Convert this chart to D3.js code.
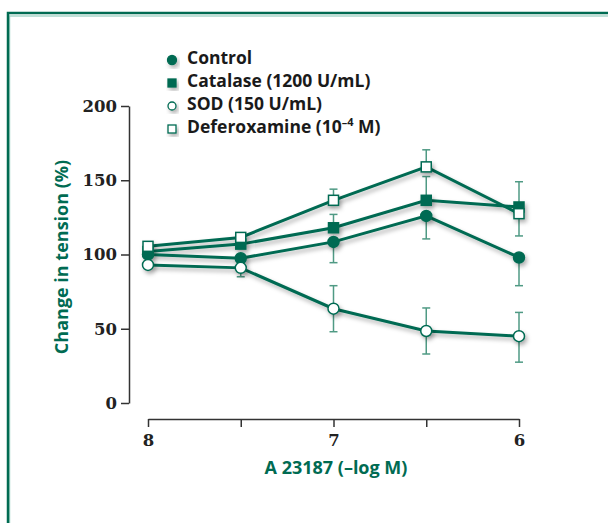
<!DOCTYPE html>
<html>
<head>
<meta charset="utf-8">
<script src="https://cdn.jsdelivr.net/npm/d3@7"></script>
<style>
  body { margin: 0; background: #fff; }
</style>
</head>
<body>
<div id="chart"></div>
<script>
// x positions (-log M)
var xVals = [8, 7.5, 7, 6.5, 6];
var xTickVals = [8, 7.5, 7, 6.5, 6];
var xTickLabels = ["8", "", "7", "", "6"];
var yTickVals = [0, 50, 100, 150, 200];

// series values (% change in tension)
var control = [100, 97.5, 108.5, 126, 98];
var catalase = [102, 107, 118, 136.5, 132];
var sod = [93, 91, 63.5, 48.5, 45];
var deferoxamine = [105.5, 111.5, 136.5, 159, 127.5];

// error bars (up / down)
var controlErrUp = [0, 0, 0, 0, 0];
var controlErrDown = [0, 0, 14, 15.5, 19];
var catalaseErrUp = [0, 0, 9, 16, 17];
var catalaseErrDown = [0, 0, 0, 0, 0];
var sodErrUp = [0, 6, 15.5, 15.5, 16];
var sodErrDown = [0, 6, 15.5, 15.5, 17.5];
var defErrUp = [0, 0, 7.5, 11.5, 0];
var defErrDown = [0, 0, 0, 0, 15];

var seriesNames = ["Control", "Catalase (1200 U/mL)", "SOD (150 U/mL)", "Deferoxamine"];

var green = "#006b52";
var barColor = "#4f9a84";
var sans = "Open Sans";

var svg = d3.select("#chart").append("svg")
    .attr("width", 608)
    .attr("height", 523);

var defs = svg.append("defs");
var f = defs.append("filter").attr("id", "shadow")
    .attr("x", "-20%").attr("y", "-20%").attr("width", "150%").attr("height", "160%");
f.append("feDropShadow")
    .attr("dx", 2).attr("dy", 3).attr("stdDeviation", 2)
    .attr("flood-color", "#000").attr("flood-opacity", 0.3);

// frame
svg.append("path")
    .attr("d", "M9.5,523 L9.5,16 L608,16")
    .attr("fill", "none").attr("stroke", "#a9d6ca").attr("stroke-width", 1.5);
svg.append("path")
    .attr("d", "M8,523 L8,13 L608,13")
    .attr("fill", "none").attr("stroke", green).attr("stroke-width", 2.5);

var x = d3.scaleLinear().domain([8, 6]).range([148, 519]);
var y = d3.scaleLinear().domain([0, 200]).range([403, 106]);

// y axis
var yAxis = svg.append("g")
    .attr("transform", "translate(129,0)")
    .call(d3.axisLeft(y).tickValues(yTickVals).tickSize(8).tickPadding(4).tickSizeOuter(0));
yAxis.select(".domain").attr("stroke", "#333").attr("stroke-width", 1.5);
yAxis.selectAll(".tick line").attr("stroke", "#333").attr("stroke-width", 1.5);
yAxis.selectAll(".tick text")
    .style("font-family", "DejaVu Serif").style("font-weight", "bold")
    .style("font-size", "16.5px").attr("fill", "#222");

// x axis
var xAxis = svg.append("g")
    .attr("transform", "translate(0,419)")
    .call(d3.axisBottom(x).tickValues(xTickVals)
      .tickFormat(function(d, i) { return xTickLabels[i]; })
      .tickSize(8).tickPadding(7).tickSizeOuter(0));
xAxis.select(".domain").attr("stroke", "#333").attr("stroke-width", 1.5);
xAxis.selectAll(".tick line").attr("stroke", "#333").attr("stroke-width", 1.5);
xAxis.selectAll(".tick text")
    .style("font-family", "DejaVu Serif").style("font-weight", "bold")
    .style("font-size", "16.5px").attr("fill", "#222");

// axis titles
svg.append("text")
    .attr("x", 336).attr("y", 474)
    .attr("text-anchor", "middle")
    .style("font-family", sans).style("font-weight", "bold").style("font-size", "18px")
    .attr("fill", green)
    .text("A 23187 (\u2013log M)");

svg.append("text")
    .attr("transform", "translate(68,257) rotate(-90)")
    .attr("text-anchor", "middle")
    .style("font-family", sans).style("font-weight", "bold").style("font-size", "18px")
    .attr("fill", green)
    .text("Change in tension (%)");

var series = [
  { name: "Control", values: control, up: controlErrUp, down: controlErrDown, shape: "circle", filled: true },
  { name: "Catalase", values: catalase, up: catalaseErrUp, down: catalaseErrDown, shape: "square", filled: true },
  { name: "SOD", values: sod, up: sodErrUp, down: sodErrDown, shape: "circle", filled: false },
  { name: "Deferoxamine", values: deferoxamine, up: defErrUp, down: defErrDown, shape: "square", filled: false }
];

// error bars
var bars = svg.append("g");
series.forEach(function(s) {
  xVals.forEach(function(xv, i) {
    var v = s.values[i];
    if (s.up[i] > 0) {
      bars.append("line").attr("x1", x(xv)).attr("x2", x(xv))
        .attr("y1", y(v)).attr("y2", y(v + s.up[i]))
        .attr("stroke", barColor).attr("stroke-width", 1.5);
      bars.append("line").attr("x1", x(xv) - 4).attr("x2", x(xv) + 4)
        .attr("y1", y(v + s.up[i])).attr("y2", y(v + s.up[i]))
        .attr("stroke", barColor).attr("stroke-width", 1.5);
    }
    if (s.down[i] > 0) {
      bars.append("line").attr("x1", x(xv)).attr("x2", x(xv))
        .attr("y1", y(v)).attr("y2", y(v - s.down[i]))
        .attr("stroke", barColor).attr("stroke-width", 1.5);
      bars.append("line").attr("x1", x(xv) - 4).attr("x2", x(xv) + 4)
        .attr("y1", y(v - s.down[i])).attr("y2", y(v - s.down[i]))
        .attr("stroke", barColor).attr("stroke-width", 1.5);
    }
  });
});

// lines
var line = d3.line()
  .x(function(d, i) { return x(xVals[i]); })
  .y(function(d) { return y(d); });

var linesG = svg.append("g").attr("filter", "url(#shadow)");
series.forEach(function(s) {
  linesG.append("path")
    .datum(s.values)
    .attr("d", line)
    .attr("fill", "none")
    .attr("stroke", green)
    .attr("stroke-width", 3);
});

// markers
function drawMarker(g, shape, filled, cx, cy) {
  if (shape == "circle") {
    g.append("circle").attr("cx", cx).attr("cy", cy)
      .attr("r", 5.5)
      .attr("fill", filled ? green : "#fff")
      .attr("stroke", green).attr("stroke-width", 1.5);
  } else {
    g.append("rect").attr("x", cx - 5).attr("y", cy - 5)
      .attr("width", 10).attr("height", 10)
      .attr("fill", filled ? green : "#fff")
      .attr("stroke", green).attr("stroke-width", 1.5);
  }
}

var markersG = svg.append("g").attr("filter", "url(#shadow)");
series.forEach(function(s) {
  s.values.forEach(function(v, i) {
    drawMarker(markersG, s.shape, s.filled, x(xVals[i]), y(v));
  });
});

// legend
var legend = svg.append("g");
var legendY = [58, 81, 104, 127];
series.forEach(function(s, i) {
  var lg = legend.append("g").attr("filter", "url(#shadow)");
  if (s.shape == "circle") {
    lg.append("circle").attr("cx", 172).attr("cy", legendY[i] + 2)
      .attr("r", s.filled ? 4.5 : 4)
      .attr("fill", s.filled ? green : "#fff")
      .attr("stroke", green).attr("stroke-width", 1.3);
  } else {
    lg.append("rect").attr("x", 168).attr("y", legendY[i] - 2)
      .attr("width", 8).attr("height", 8)
      .attr("fill", s.filled ? green : "#fff")
      .attr("stroke", green).attr("stroke-width", 1.3);
  }
  var t = legend.append("text")
    .attr("x", 187).attr("y", legendY[i] + 6)
    .style("font-family", sans).style("font-weight", "bold").style("font-size", "17.5px")
    .attr("fill", "#1a1a1a");
  if (i < 3) {
    t.text(seriesNames[i]);
  } else {
    t.append("tspan").text("Deferoxamine (10");
    t.append("tspan").attr("dy", -7).style("font-size", "11px").text("\u20134");
    t.append("tspan").attr("dy", 7).text(" M)");
  }
});
</script>
</body>
</html>
